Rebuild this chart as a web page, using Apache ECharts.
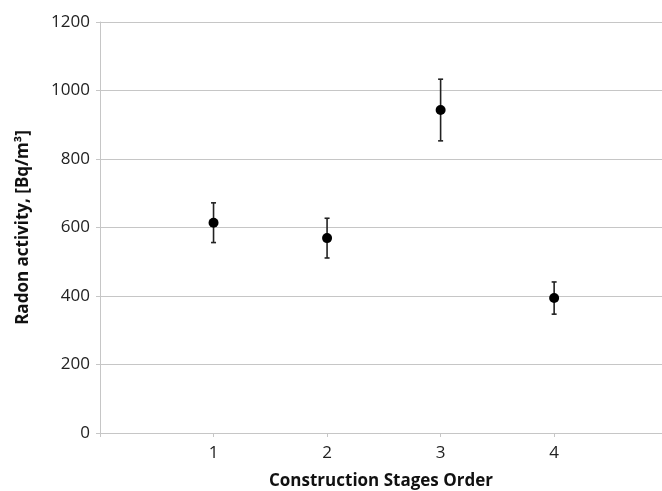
<!DOCTYPE html>
<html lang="en">
<head>
    <meta charset="UTF-8">
    <title>Radon activity</title>
    <script src="https://cdn.jsdelivr.net/npm/echarts@6/dist/echarts.min.js"></script>
    <style>
        *{
            margin: 0;
            padding: 0;
        }
        body{
            background-color: #fff;
            overflow: hidden;
        }
    </style>
</head>
<body>
<div id="main" style="width:662px;height:491px;"></div>
<script>
    // data
    var stages = [1, 2, 3, 4];
    var means = [614, 569, 943, 394];
    var errors = [58, 58, 90, 47];
    var yTicks = [0, 200, 400, 600, 800, 1000, 1200];

    var points = [];
    var bars = [];
    for (var i = 0; i < stages.length; i++) {
        points.push([stages[i], means[i]]);
        bars.push([stages[i], means[i] - errors[i], means[i] + errors[i]]);
    }

    var gridColor = '#c6c6c6';
    var fontFam = 'Open Sans';

    var myChart = echarts.init(document.getElementById('main'));

    var option = {
        animation: false,
        grid: {
            left: 100,
            right: 0,
            top: 22,
            bottom: 58,
            outerBoundsMode: 'none',
            containLabel: false
        },
        xAxis: {
            type: 'value',
            min: 0,
            max: 4.95,
            interval: 1,
            name: 'Construction Stages Order',
            nameLocation: 'middle',
            nameGap: 40,
            nameTextStyle: {
                color: '#111',
                fontSize: 17,
                fontWeight: 'bold',
                fontFamily: fontFam
            },
            splitLine: {show: false},
            axisLine: {lineStyle: {color: gridColor, width: 1}},
            axisTick: {show: true, length: 4, lineStyle: {color: gridColor}},
            axisLabel: {
                margin: 12,
                color: '#222',
                fontSize: 17,
                fontFamily: fontFam,
                showMaxLabel: false,
                formatter: function (v) {
                    return v === 0 ? '' : String(v);
                }
            }
        },
        yAxis: {
            type: 'value',
            min: yTicks[0],
            max: yTicks[yTicks.length - 1],
            interval: yTicks[1] - yTicks[0],
            name: 'Radon activity, [Bq/m\u00b3]',
            nameLocation: 'middle',
            nameGap: 68,
            nameTextStyle: {
                color: '#111',
                fontSize: 17,
                fontWeight: 'bold',
                fontFamily: fontFam
            },
            splitLine: {lineStyle: {color: gridColor, width: 1}},
            axisLine: {show: true, lineStyle: {color: gridColor, width: 1}},
            axisTick: {show: true, length: 4, lineStyle: {color: gridColor}},
            axisLabel: {
                margin: 10,
                color: '#222',
                fontSize: 17,
                fontFamily: fontFam,
                formatter: function (v) {
                    return String(v);
                }
            }
        },
        series: [
            {
                type: 'custom',
                name: 'error',
                renderItem: function (params, api) {
                    var x = api.value(0);
                    var lo = api.coord([x, api.value(1)]);
                    var hi = api.coord([x, api.value(2)]);
                    var cap = 2.5;
                    var st = {stroke: '#222', lineWidth: 1.6};
                    return {
                        type: 'group',
                        children: [
                            {type: 'line', shape: {x1: lo[0], y1: lo[1], x2: hi[0], y2: hi[1]}, style: st},
                            {type: 'line', shape: {x1: lo[0] - cap, y1: lo[1], x2: lo[0] + cap, y2: lo[1]}, style: st},
                            {type: 'line', shape: {x1: hi[0] - cap, y1: hi[1], x2: hi[0] + cap, y2: hi[1]}, style: st}
                        ]
                    };
                },
                encode: {x: 0, y: [1, 2]},
                data: bars,
                z: 2
            },
            {
                type: 'scatter',
                name: 'mean',
                symbol: 'circle',
                symbolSize: 10,
                itemStyle: {color: '#000', opacity: 1},
                data: points,
                z: 3
            }
        ]
    };
    myChart.setOption(option);
</script>
</body>
</html>
